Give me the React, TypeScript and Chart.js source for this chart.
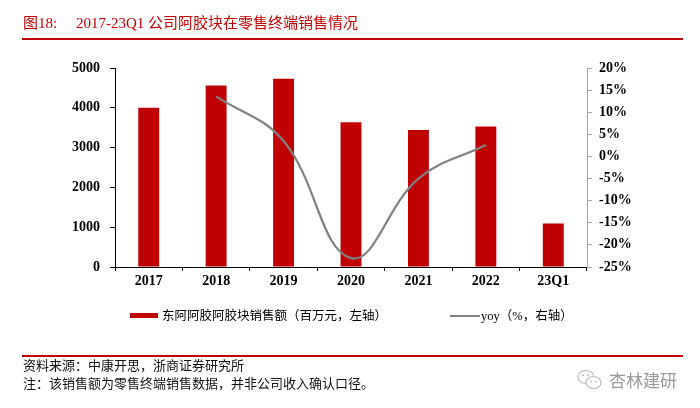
import React, { useEffect, useRef } from 'react';
import { Chart, registerables } from 'chart.js';

Chart.register(...registerables);

const categories = ['2017', '2018', '2019', '2020', '2021', '2022', '23Q1'];
const salesValues = [4000, 4560, 4730, 3640, 3440, 3530, 1090];
const yoyValues: (number | null)[] = [null, 13.6, 3.5, -23.0, -5.0, 2.6, null];
const leftAxis = { min: 0, max: 5000, step: 1000 };
const rightAxis = { min: -25, max: 20, step: 5 };

const tickFont = { family: '"Liberation Serif", "Times New Roman", serif', size: 14, weight: 'bold' as const };
const cjk = '"Liberation Serif", "Noto Sans CJK SC", serif';

export default function App() {
  const ref = useRef<HTMLCanvasElement>(null);

  useEffect(() => {
    if (!ref.current) return;
    const chart = new Chart(ref.current, {
      type: 'bar',
      data: {
        labels: categories,
        datasets: [
          {
            type: 'line',
            data: yoyValues,
            yAxisID: 'y1',
            borderColor: '#808080',
            borderWidth: 2.2,
            pointRadius: 0,
            tension: 0.4,
            fill: false,
            order: 0,
          } as any,
          {
            type: 'bar',
            data: salesValues,
            yAxisID: 'y',
            backgroundColor: '#c00000',
            barPercentage: 0.31,
            categoryPercentage: 1,
            order: 1,
          } as any,
        ],
      },
      options: {
        animation: false,
        responsive: false,
        layout: { padding: { top: 68, bottom: 111, left: 0, right: 0 } },
        plugins: { legend: { display: false }, tooltip: { enabled: false } },
        scales: {
          x: {
            grid: { offset: true, drawOnChartArea: false, color: '#000', tickLength: 4 },
            border: { color: '#000', width: 1 },
            ticks: { font: tickFont, color: '#000', padding: 2 },
            afterFit: (s: any) => { s.height = 30; },
          },
          y: {
            position: 'left',
            min: leftAxis.min,
            max: leftAxis.max,
            ticks: {
              stepSize: leftAxis.step,
              font: tickFont,
              color: '#000',
              padding: 10,
              callback: (v: any) => String(v),
            },
            grid: { drawOnChartArea: false, color: '#000', tickLength: 5 },
            border: { color: '#000', width: 1 },
            afterFit: (s: any) => { s.width = 115; },
          },
          y1: {
            position: 'right',
            min: rightAxis.min,
            max: rightAxis.max,
            ticks: {
              stepSize: rightAxis.step,
              font: tickFont,
              color: '#000',
              padding: 7,
              callback: (v: any) => `${v}%`,
            },
            grid: { drawOnChartArea: false, color: '#a6a6a6', tickLength: 5 },
            border: { color: '#a6a6a6', width: 1 },
            afterFit: (s: any) => { s.width = 113; },
          },
        },
      } as any,
    });
    return () => chart.destroy();
  }, []);

  const abs = (o: React.CSSProperties): React.CSSProperties => ({ position: 'absolute', whiteSpace: 'nowrap', ...o });

  return (
    <div style={{ position: 'absolute', left: 0, top: 0, width: 700, height: 408, background: '#fff', overflow: 'hidden' }}>
      <canvas ref={ref} width={700} height={408} style={{ position: 'absolute', left: 0, top: 0, width: 700, height: 408 }} />
      <div style={abs({ left: 23, top: 15, fontFamily: cjk, fontSize: 15, lineHeight: '16px', color: '#c00000' })}>图18:</div>
      <div style={abs({ left: 76, top: 15, fontFamily: cjk, fontSize: 15, lineHeight: '16px', color: '#c00000' })}>2017-23Q1 公司阿胶块在零售终端销售情况</div>
      <div style={abs({ left: 22, top: 37.5, width: 661, height: 2, background: '#c00000' })} />

      <div style={abs({ left: 130, top: 313, width: 28, height: 5, background: '#c00000' })} />
      <div style={abs({ left: 162, top: 309, fontFamily: cjk, fontSize: 12.5, lineHeight: '14px', color: '#000' })}>东阿阿胶阿胶块销售额（百万元，左轴）</div>
      <div style={abs({ left: 450, top: 314.5, width: 30, height: 2, background: '#808080' })} />
      <div style={abs({ left: 481, top: 309, fontFamily: cjk, fontSize: 12.5, lineHeight: '14px', color: '#000' })}>yoy（%，右轴）</div>

      <div style={abs({ left: 22, top: 355, width: 661, height: 2, background: '#c00000' })} />
      <div style={abs({ left: 23, top: 358, fontFamily: cjk, fontSize: 13, lineHeight: '15px', color: '#111' })}>资料来源：中康开思，浙商证券研究所</div>
      <div style={abs({ left: 23, top: 376, fontFamily: cjk, fontSize: 13, lineHeight: '15px', color: '#111' })}>注：该销售额为零售终端销售数据，并非公司收入确认口径。</div>

      <svg style={{ position: 'absolute', left: 577, top: 369 }} width={26} height={22} viewBox="0 0 26 22">
        <ellipse cx={9} cy={8} rx={8} ry={6.5} fill="none" stroke="#bbb" strokeWidth={1.2} />
        <ellipse cx={16.5} cy={13.5} rx={7.5} ry={6} fill="#fff" stroke="#bbb" strokeWidth={1.2} />
        <circle cx={14} cy={12.5} r={0.9} fill="#bbb" />
        <circle cx={19} cy={12.5} r={0.9} fill="#bbb" />
        <circle cx={6} cy={6} r={0.9} fill="#bbb" />
        <circle cx={11} cy={6} r={0.9} fill="#bbb" />
      </svg>
      <div style={abs({ left: 609, top: 370, fontFamily: '"Noto Sans CJK SC", sans-serif', fontSize: 17, lineHeight: '20px', color: '#999' })}>杏林建研</div>
    </div>
  );
}
